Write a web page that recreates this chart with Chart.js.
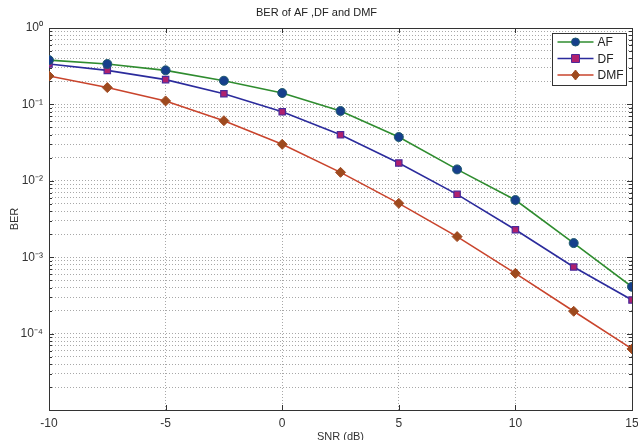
<!DOCTYPE html>
<html>
<head>
<meta charset="utf-8">
<script src="https://cdn.jsdelivr.net/npm/chart.js@4"></script>
<style>
  html, body { margin: 0; padding: 0; background: #fff; }
  canvas { display: block; }
</style>
</head>
<body>
<canvas id="ber" width="638" height="440"></canvas>
<script>
  // SNR points (dB) and BER per scheme
  const snr = [-10, -7.5, -5, -2.5, 0, 2.5, 5, 7.5, 10, 12.5, 15];
  const berAF  = [0.38, 0.338, 0.279, 0.204, 0.141, 0.082, 0.0374, 0.0141, 0.0056, 0.00153, 0.00041];
  const berDF  = [0.338, 0.279, 0.211, 0.138, 0.080, 0.040, 0.0171, 0.00665, 0.00229, 0.000745, 0.000275];
  const berDMF = [0.235, 0.166, 0.111, 0.0612, 0.030, 0.0129, 0.00507, 0.00186, 0.000615, 0.000196, 0.000063];
  const xTicks = [-10, -5, 0, 5, 10, 15];
  const decades = [-5, -4, -3, -2, -1, 0];
  const labelledDecades = [-4, -3, -2, -1, 0];

  const FONT = "'Liberation Sans', Arial, sans-serif";
  const SUP = { "0": "⁰", "1": "¹", "2": "²", "3": "³", "4": "⁴", "5": "⁵", "6": "⁶", "7": "⁷", "8": "⁸", "9": "⁹", "-": "⁻" };
  const pow10 = e => "10" + String(e).split("").map(c => SUP[c]).join("");

  function pts(arr) { return snr.map((x, i) => ({ x, y: arr[i] })); }

  // y ticks: every 1..9 x 10^k, labels only on decades
  function logTicks() {
    const out = [];
    decades.forEach(e => {
      if (e === 0) { out.push({ value: 1 }); return; }
      for (let m = 1; m <= 9; m++) out.push({ value: +(m * Math.pow(10, e)).toPrecision(3) });
    });
    return out;
  }

  function isDecade(v) {
    const l = Math.log10(v);
    return Math.abs(l - Math.round(l)) < 1e-9;
  }

  // Matlab-style box + inward tick marks
  const framePlugin = {
    id: "frame",
    beforeDatasetsDraw(chart) {
      const { ctx, chartArea: a, scales } = chart;
      ctx.save();
      ctx.strokeStyle = "#333";
      ctx.lineWidth = 1;
      ctx.beginPath();
      scales.y.ticks.forEach(t => {
        const y = Math.round(scales.y.getPixelForValue(t.value)) + 0.5;
        const len = isDecade(t.value) ? 5 : 3;
        ctx.moveTo(a.left, y); ctx.lineTo(a.left + len, y);
        ctx.moveTo(a.right, y); ctx.lineTo(a.right - len, y);
      });
      xTicks.forEach(v => {
        const x = Math.round(scales.x.getPixelForValue(v)) + 0.5;
        ctx.moveTo(x, a.bottom); ctx.lineTo(x, a.bottom - 5);
        ctx.moveTo(x, a.top); ctx.lineTo(x, a.top + 5);
      });
      ctx.stroke();
      ctx.strokeRect(Math.round(a.left) + 0.5, Math.round(a.top) + 0.5,
        Math.round(a.right - a.left), Math.round(a.bottom - a.top));
      ctx.restore();
    }
  };

  function marker(ctx, style, x, y, r, fill, stroke) {
    ctx.beginPath();
    if (style === "circle") {
      ctx.arc(x, y, r, 0, Math.PI * 2);
    } else if (style === "rect") {
      ctx.rect(x - r, y - r, 2 * r, 2 * r);
    } else {
      ctx.moveTo(x, y - r - 1); ctx.lineTo(x + r, y); ctx.lineTo(x, y + r + 1); ctx.lineTo(x - r, y); ctx.closePath();
    }
    ctx.fillStyle = fill; ctx.fill();
    ctx.strokeStyle = stroke; ctx.lineWidth = 1; ctx.stroke();
  }

  // boxed legend inside the plot, top right
  const legendPlugin = {
    id: "boxLegend",
    afterDraw(chart) {
      const { ctx, chartArea: a } = chart;
      const w = 74, h = 52;
      const bx = Math.round(a.right - 6 - w) + 0.5, by = Math.round(a.top + 5) + 0.5;
      ctx.save();
      ctx.fillStyle = "#fff";
      ctx.fillRect(bx, by, w, h);
      ctx.strokeStyle = "#333";
      ctx.lineWidth = 1;
      ctx.strokeRect(bx, by, w, h);
      ctx.font = "12px " + FONT;
      ctx.textBaseline = "middle";
      chart.data.datasets.forEach((ds, i) => {
        const y = by + 8.5 + i * 16.5;
        ctx.strokeStyle = ds.borderColor;
        ctx.lineWidth = 1.6;
        ctx.beginPath(); ctx.moveTo(bx + 5, y); ctx.lineTo(bx + 41, y); ctx.stroke();
        marker(ctx, ds.pointStyle, bx + 23, y, 4, ds.pointBackgroundColor, ds.pointBorderColor);
        ctx.fillStyle = "#222";
        ctx.fillText(ds.label, bx + 45, y + 1);
      });
      ctx.restore();
    }
  };

  const gridDots = { color: "#a8a8a8", lineWidth: 1, drawTicks: false };

  new Chart(document.getElementById("ber"), {
    type: "line",
    data: {
      datasets: [
        {
          label: "AF", data: pts(berAF),
          borderColor: "#2f8c2f", borderWidth: 1.6,
          pointStyle: "circle", pointRadius: 4.5,
          pointBackgroundColor: "#163f8c", pointBorderColor: "#1f5a6e", pointBorderWidth: 1
        },
        {
          label: "DF", data: pts(berDF),
          borderColor: "#2b2b9c", borderWidth: 1.6,
          pointStyle: "rect", pointRadius: 4.5,
          pointBackgroundColor: "#b0206e", pointBorderColor: "#4b2a9a", pointBorderWidth: 1.2
        },
        {
          label: "DMF", data: pts(berDMF),
          borderColor: "#c9442c", borderWidth: 1.6,
          pointStyle: "rectRot", pointRadius: 5,
          pointBackgroundColor: "#9e4a1e", pointBorderColor: "#a04a22", pointBorderWidth: 1
        }
      ]
    },
    options: {
      responsive: false,
      animation: false,
      devicePixelRatio: 1,
      layout: { padding: { left: 0, right: 5, top: 0, bottom: 0 } },
      elements: { line: { tension: 0 } },
      plugins: {
        legend: { display: false },
        tooltip: { enabled: false },
        title: {
          display: true, text: "BER of AF ,DF and DMF", color: "#222",
          font: { family: FONT, size: 11, weight: "normal", lineHeight: 1.2 },
          padding: { top: 6, bottom: 8.8 }
        }
      },
      scales: {
        x: {
          type: "linear", min: -10, max: 15,
          afterBuildTicks: s => { s.ticks = xTicks.map(v => ({ value: v })); },
          afterFit: s => { s.height = 30; s.paddingLeft = 0; s.paddingRight = 0; },
          ticks: { color: "#333", padding: 6, font: { family: FONT, size: 12 }, maxRotation: 0 },
          grid: gridDots,
          border: { display: false, dash: [1, 2] },
          title: {
            display: true, text: "SNR (dB)", color: "#333",
            font: { family: FONT, size: 11 }, padding: { top: 0, bottom: -4 }
          }
        },
        y: {
          type: "logarithmic", min: 1e-5, max: 1,
          afterBuildTicks: s => { s.ticks = logTicks(); },
          afterFit: s => { s.width = 49; s.paddingTop = 0; s.paddingBottom = 0; },
          ticks: {
            color: "#333", padding: 6, autoSkip: false, font: { family: FONT, size: 12 },
            callback: v => {
              if (!isDecade(v)) return "";
              const e = Math.round(Math.log10(v));
              return labelledDecades.includes(e) ? pow10(e) : "";
            }
          },
          grid: gridDots,
          border: { display: false, dash: [1, 2] },
          title: {
            display: true, text: "BER", color: "#333",
            font: { family: FONT, size: 11 }, padding: { top: 8, bottom: 0 }
          }
        }
      }
    },
    plugins: [framePlugin, legendPlugin]
  });
</script>
</body>
</html>
